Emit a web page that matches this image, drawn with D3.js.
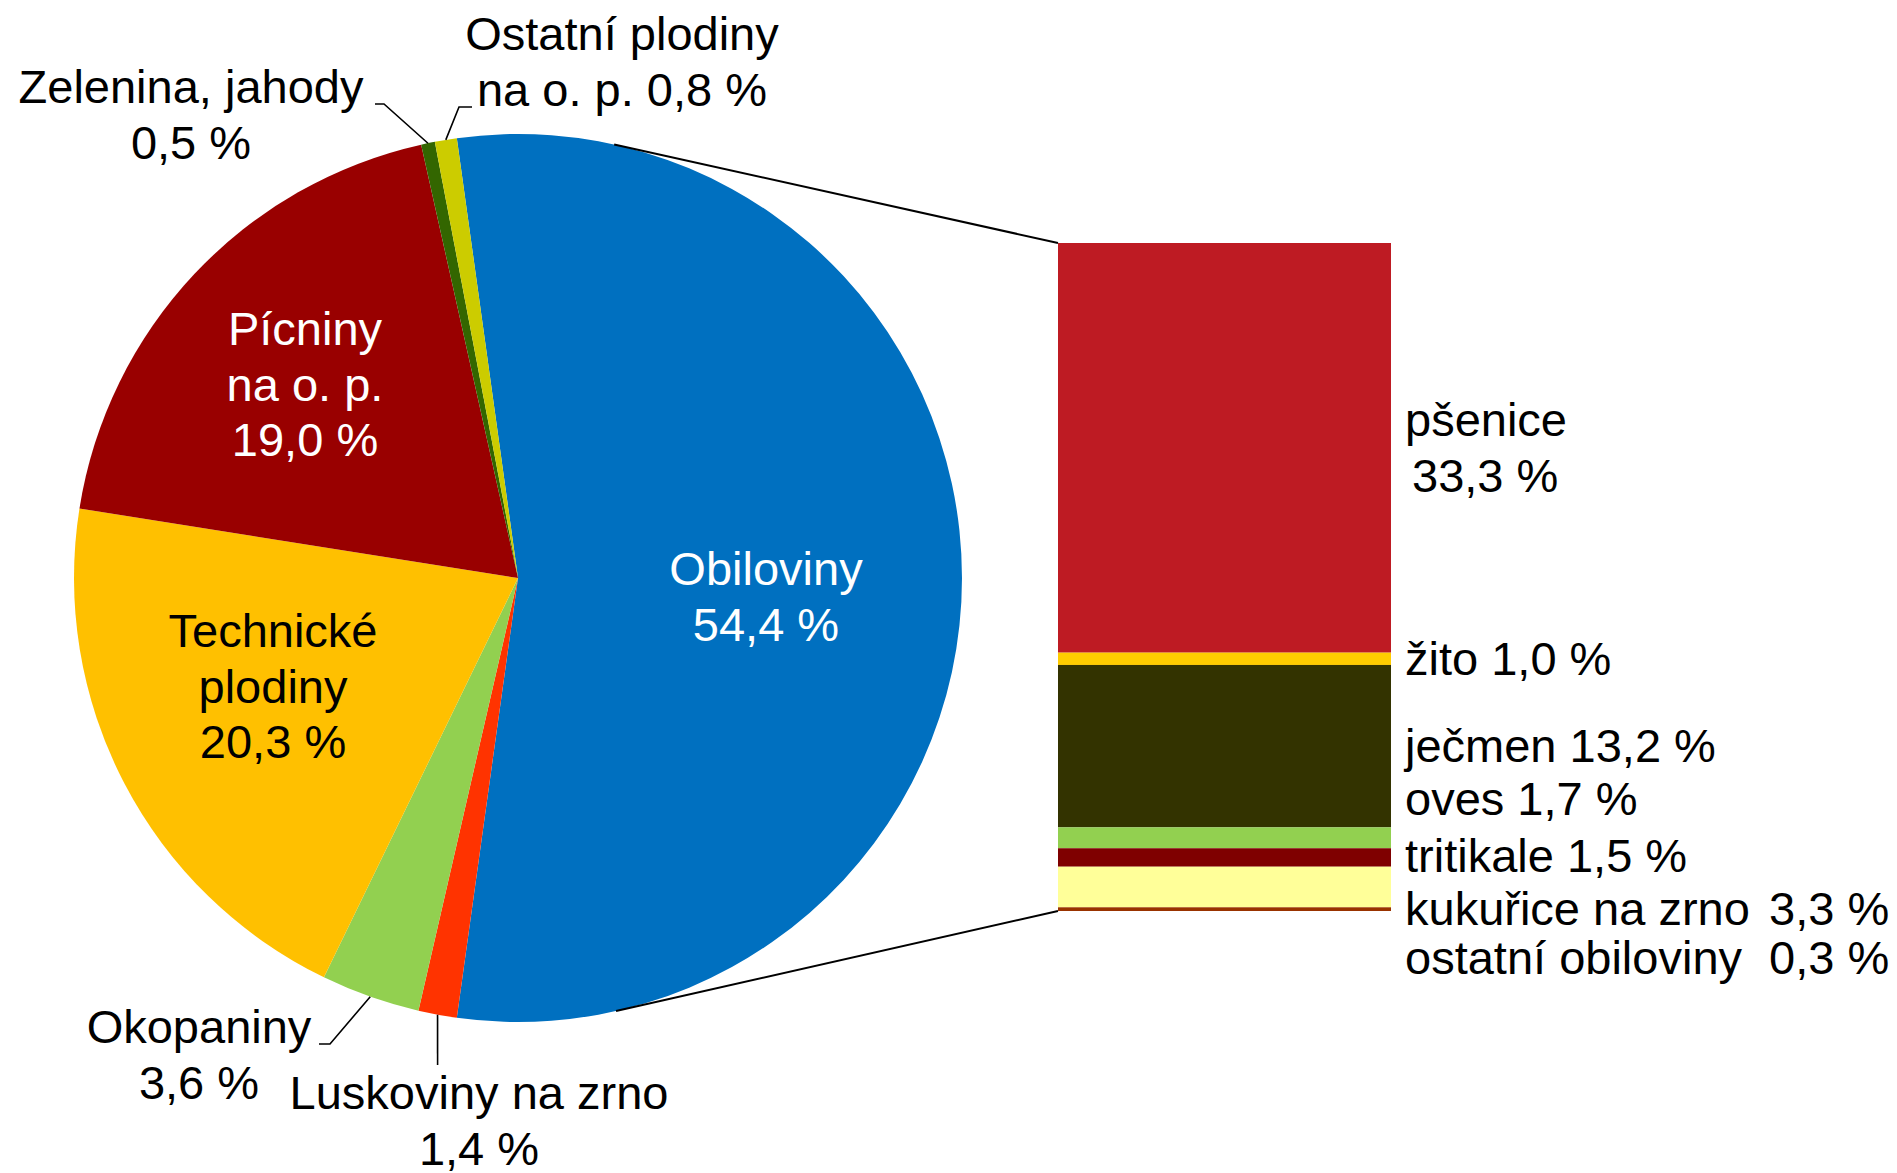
<!DOCTYPE html>
<html>
<head>
  <meta charset="utf-8">
  <title>Struktura osevních ploch</title>
  <script src="https://d3js.org/d3.v7.min.js"></script>
  <style>
    body {
      margin: 0;
      background: #fff;
      font-family: "Liberation Sans", Arial, sans-serif;
    }
    text {
      font-size: 47px;
    }
  </style>
</head>
<body>
  <div id="chart"></div>
  <script>
    // main pie: crop groups, share of sown area (%)
    const crops = ["Obiloviny", "Luskoviny na zrno", "Okopaniny", "Technické plodiny",
                   "Pícniny na o. p.", "Zelenina, jahody", "Ostatní plodiny na o. p."];
    const cropShares = [54.4, 1.4, 3.6, 20.3, 19.0, 0.5, 0.8];
    const cropColors = ["#0070C0", "#FF3300", "#92D050", "#FFC000", "#990000", "#336600", "#CCCC00"];

    // how each pie label is broken into lines ({v} = value)
    const cropLabelLines = [
      ["Obiloviny", "{v}"],
      ["Luskoviny na zrno", "{v}"],
      ["Okopaniny", "{v}"],
      ["Technické", "plodiny", "{v}"],
      ["Pícniny", "na o. p.", "{v}"],
      ["Zelenina, jahody", "{v}"],
      ["Ostatní plodiny", "na o. p. {v}"]
    ];

    // bar: breakdown of cereals (%)
    const cereals = ["pšenice", "žito", "ječmen", "oves", "tritikale", "kukuřice na zrno", "ostatní obiloviny"];
    const cerealShares = [33.3, 1.0, 13.2, 1.7, 1.5, 3.3, 0.3];
    const cerealColors = ["#BE1B23", "#FFCC00", "#333300", "#92D050", "#7F0000", "#FFFF99", "#993300"];

    const width = 1897, height = 1173;
    const cx = 518, cy = 578, R = 444;
    const bar = { x: 1058, w: 333, top: 243, h: 668 };
    const lineH = 55.5;

    const fmt = d3.formatLocale({ decimal: ",", thousands: "\u00a0", grouping: [3], currency: ["", ""] }).format(".1f");
    const pct = v => fmt(v) + " %";

    // label layout, offsets from the pie centre (first baseline)
    const pieLabelAt = [[248, 7], [-39, 531], [-319, 465], [-245, 69], [-213, -233], [-327, -475], [104, -528]];
    const pieLabelFill = ["#fff", "#000", "#000", "#000", "#fff", "#000", "#000"];
    // leader elbows for outside labels
    const pieLeader = [null, [[-80.4, 487]], [[-188, 466], [-199, 466]], null, null,
                       [[-134, -474], [-143, -474]], [[-59, -471], [-46, -471]]];

    const svg = d3.select("#chart").append("svg")
      .attr("width", width)
      .attr("height", height);

    // ---- pie ----
    const share0 = cropShares[0] / d3.sum(cropShares);
    const start = Math.PI / 2 - Math.PI * share0;   // first slice centred at 3 o'clock
    const pie = d3.pie().sort(null).value(d => d)
      .startAngle(start).endAngle(start + 2 * Math.PI);
    const arcs = pie(cropShares);
    const arc = d3.arc().innerRadius(0).outerRadius(R);
    const edge = d3.arc().innerRadius(R).outerRadius(R);

    const g = svg.append("g").attr("transform", `translate(${cx},${cy})`);

    g.selectAll("path.slice")
      .data(arcs)
      .join("path")
      .attr("class", "slice")
      .attr("d", arc)
      .attr("fill", (d, i) => cropColors[i]);

    // leaders
    const line = d3.line();
    arcs.forEach((d, i) => {
      if (!pieLeader[i]) return;
      const pts = [edge.centroid(d)].concat(pieLeader[i]);
      g.append("path")
        .attr("d", line(pts))
        .attr("fill", "none")
        .attr("stroke", "#000")
        .attr("stroke-width", 1.6);
    });

    // pie labels
    arcs.forEach((d, i) => {
      const t = g.append("text")
        .attr("text-anchor", "middle")
        .attr("fill", pieLabelFill[i])
        .attr("x", pieLabelAt[i][0])
        .attr("y", pieLabelAt[i][1]);
      cropLabelLines[i].forEach((s, k) => {
        t.append("tspan")
          .attr("x", pieLabelAt[i][0])
          .attr("dy", k === 0 ? 0 : lineH)
          .text(s.replace("{v}", pct(cropShares[i])));
      });
    });

    // ---- connector lines: tangents from bar corners to the pie ----
    function tangent(px, py, upper) {
      const dx = px - cx, dy = py - cy;
      const d = Math.hypot(dx, dy);
      const phi = Math.atan2(dy, dx);
      const a = phi + (upper ? -1 : 1) * Math.acos(R / d);
      return [cx + R * Math.cos(a), cy + R * Math.sin(a)];
    }
    [[bar.top, true], [bar.top + bar.h, false]].forEach(([py, up]) => {
      svg.append("path")
        .attr("d", line([tangent(bar.x, py, up), [bar.x, py]]))
        .attr("stroke", "#000")
        .attr("stroke-width", 2)
        .attr("fill", "none");
    });

    // ---- stacked bar ----
    const y = d3.scaleLinear()
      .domain([0, d3.sum(cerealShares)])
      .range([bar.top, bar.top + bar.h]);
    const starts = [0].concat(Array.from(d3.cumsum(cerealShares)).slice(0, -1));

    svg.selectAll("rect.seg")
      .data(cerealShares)
      .join("rect")
      .attr("class", "seg")
      .attr("x", bar.x)
      .attr("width", bar.w)
      .attr("y", (d, i) => y(starts[i]))
      .attr("height", (d, i) => y(starts[i] + d) - y(starts[i]))
      .attr("fill", (d, i) => cerealColors[i]);

    // bar labels: centred on segment, nudged apart where they collide
    const labelX = 1405, valueCol = 1769;
    const nudge = [0, 0, 0, -39, -1, 22, 49];
    cerealShares.forEach((v, i) => {
      const mid = y(starts[i] + v / 2);
      if (i === 0) {
        const t = svg.append("text").attr("x", labelX).attr("y", mid - lineH / 2 + 16);
        t.append("tspan").attr("x", labelX).text(cereals[i]);
        t.append("tspan").attr("x", labelX + 7).attr("dy", lineH).text(pct(v));
        return;
      }
      const t = svg.append("text").attr("x", labelX).attr("y", mid + 16 + nudge[i]);
      t.append("tspan").text(cereals[i]);
      if (i >= 5) {
        t.append("tspan").attr("x", valueCol).text(pct(v));
      } else {
        t.append("tspan").text(" " + pct(v));
      }
    });
  </script>
</body>
</html>
